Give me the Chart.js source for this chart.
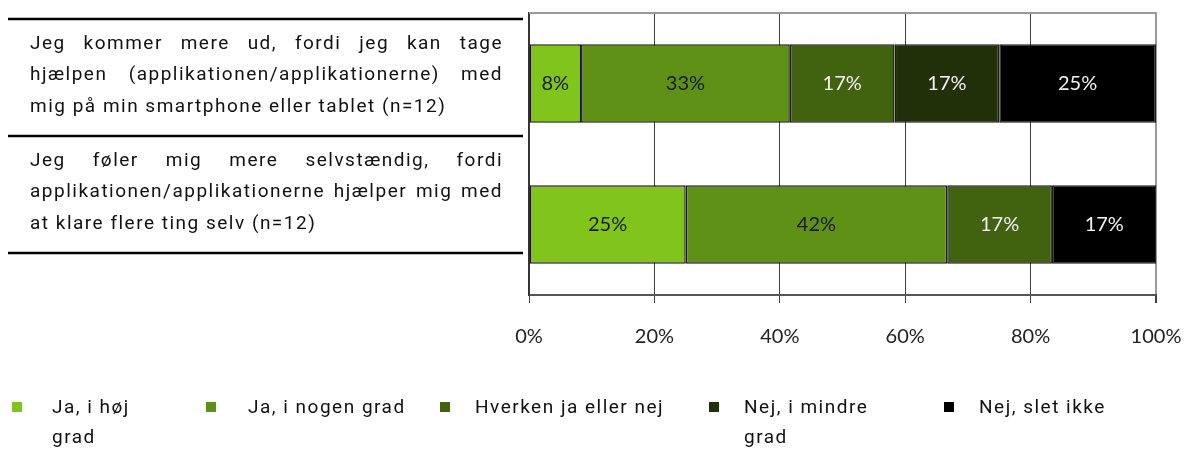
<!DOCTYPE html>
<html>
<head>
<meta charset="utf-8">
<script src="https://cdn.jsdelivr.net/npm/chart.js@4.4.1/dist/chart.umd.min.js"></script>
<style>
  html, body { margin: 0; padding: 0; background: #ffffff; }
  #wrap { width: 1185px; height: 450px; position: relative; }
</style>
</head>
<body>
<div id="wrap"><canvas id="c" width="1185" height="450"></canvas></div>
<script>
// ---- DATA ----
const categories = [
  ["Jeg kommer mere ud, fordi jeg kan tage", "hjælpen (applikationen/applikationerne) med", "mig på min smartphone eller tablet (n=12)"],
  ["Jeg føler mig mere selvstændig, fordi", "applikationen/applikationerne hjælper mig med", "at klare flere ting selv (n=12)"]
];
const seriesNames = ["Ja, i høj grad", "Ja, i nogen grad", "Hverken ja eller nej", "Nej, i mindre grad", "Nej, slet ikke"];
const legendLines = [["Ja, i høj", "grad"], ["Ja, i nogen grad"], ["Hverken ja eller nej"], ["Nej, i mindre", "grad"], ["Nej, slet ikke"]];
const jaHoej = [8.3, 25.0];
const jaNogen = [33.3, 41.7];
const hverken = [16.7, 16.7];
const nejMindre = [16.7, 0];
const nejSlet = [25.0, 16.7];
const tickLabels = ["0%", "20%", "40%", "60%", "80%", "100%"];

// ---- STYLE ----
const seriesColors = ["#80c41c", "#5f9117", "#41620f", "#223009", "#000000"];
const labelColors = ["#1a1a1a", "#1a1a1a", "#f2f2f2", "#f2f2f2", "#f2f2f2"];
const legendX = [12, 206, 440, 709, 944];
const legendTextX = [52, 248, 475, 744, 979];
const textFont = "19px Roboto";
const textSpacing = "1.5px";
const numFont = "20px Lato";

const seriesData = [jaHoej, jaNogen, hverken, nejMindre, nejSlet];

const datasets = seriesNames.map((n, i) => ({
  label: n,
  data: seriesData[i],
  backgroundColor: seriesColors[i],
  borderColor: "#1a1a1a",
  borderWidth: 1.5,
  borderSkipped: false,
  categoryPercentage: 1.0,
  barPercentage: 0.555
}));

const customPlugin = {
  id: "custom",
  afterDraw(chart) {
    const ctx = chart.ctx;
    const area = chart.chartArea;
    // top border
    ctx.save();
    ctx.strokeStyle = "#9a9a9a";
    ctx.lineWidth = 2;
    ctx.beginPath();
    ctx.moveTo(area.left, area.top);
    ctx.lineTo(area.right + 1, area.top);
    ctx.stroke();
    ctx.restore();

    // data labels
    ctx.save();
    ctx.font = numFont;
    ctx.textAlign = "center";
    ctx.textBaseline = "middle";
    chart.data.datasets.forEach((ds, di) => {
      const meta = chart.getDatasetMeta(di);
      meta.data.forEach((el, j) => {
        const v = ds.data[j];
        if (!v) return;
        ctx.fillStyle = labelColors[di];
        ctx.fillText(Math.round(v) + "%", (el.x + el.base) / 2, el.y);
      });
    });
    ctx.restore();

    // left table with justified text
    ctx.save();
    const x0 = 8, x1 = 523, tx0 = 30, tx1 = 503;
    const rowTop0 = area.top + 6, rowH = 117;
    ctx.strokeStyle = "#000";
    ctx.lineWidth = 2.5;
    for (let r = 0; r <= categories.length; r++) {
      const y = rowTop0 + r * rowH;
      ctx.beginPath();
      ctx.moveTo(x0, y);
      ctx.lineTo(x1, y);
      ctx.stroke();
    }
    ctx.font = textFont;
    ctx.letterSpacing = textSpacing;
    ctx.fillStyle = "#111";
    ctx.textBaseline = "middle";
    ctx.textAlign = "left";
    categories.forEach((lines, r) => {
      const top = rowTop0 + r * rowH;
      lines.forEach((line, li) => {
        const y = top + 25 + li * 31.5;
        if (li === lines.length - 1) {
          ctx.fillText(line, tx0, y);
        } else {
          const words = line.split(" ");
          const widths = words.map(w => ctx.measureText(w).width);
          const total = widths.reduce((a, b) => a + b, 0);
          const gap = (tx1 - tx0 - total) / (words.length - 1);
          let x = tx0;
          words.forEach((w, wi) => {
            ctx.fillText(w, x, y);
            x += widths[wi] + gap;
          });
        }
      });
    });
    ctx.restore();

    // legend
    ctx.save();
    ctx.font = textFont;
    ctx.letterSpacing = textSpacing;
    ctx.textBaseline = "middle";
    ctx.textAlign = "left";
    seriesNames.forEach((n, i) => {
      ctx.fillStyle = seriesColors[i];
      ctx.fillRect(legendX[i], 402, 10, 10);
      ctx.fillStyle = "#111";
      legendLines[i].forEach((l, li) => {
        ctx.fillText(l, legendTextX[i], 408 + li * 30);
      });
    });
    ctx.restore();
  }
};

new Chart(document.getElementById("c"), {
  type: "bar",
  data: { labels: categories, datasets: datasets },
  options: {
    responsive: false,
    animation: false,
    indexAxis: "y",
    layout: { padding: { left: 529, right: 29, top: 13, bottom: 0 } },
    plugins: { legend: { display: false }, tooltip: { enabled: false } },
    scales: {
      x: {
        stacked: true,
        min: 0,
        max: 100,
        afterFit(scale) { scale.height = 155; scale.paddingLeft = 0; scale.paddingRight = 0; },
        afterBuildTicks(scale) { scale.ticks = tickLabels.map((t, i) => ({ value: i * 20 })); },
        ticks: {
          font: { family: "Lato", size: 20 },
          color: "#222",
          padding: 22,
          callback: (v, i) => tickLabels[i]
        },
        grid: {
          color: (c) => (c.index === tickLabels.length - 1 ? "#9a9a9a" : "#404040"),
          lineWidth: (c) => (c.index === tickLabels.length - 1 ? 2 : 1),
          tickColor: "#404040",
          tickLength: 8
        },
        border: { color: "#555", width: 2 }
      },
      y: {
        stacked: true,
        afterFit(scale) { scale.width = 0; },
        ticks: { display: false },
        grid: { display: false },
        border: { display: true, color: "#333", width: 1.5 }
      }
    }
  },
  plugins: [customPlugin]
});
</script>
</body>
</html>
